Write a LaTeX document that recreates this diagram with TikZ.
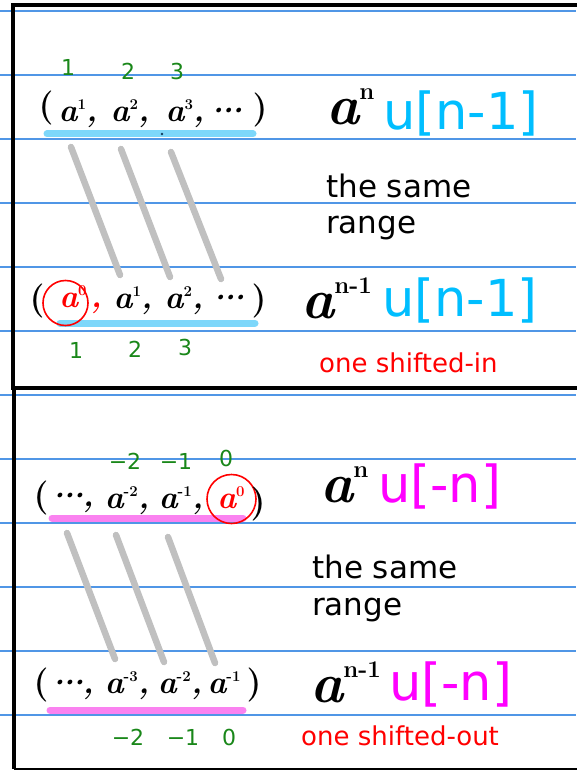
\documentclass[tikz,border=0pt]{standalone}
\usepackage{fontspec}
\newfontfamily\notefont{DejaVu Sans}
\usepackage{tikz}
\usetikzlibrary{positioning}
\definecolor{RuleBlue}{RGB}{80,150,230}
\definecolor{MarkBlue}{RGB}{125,215,250}
\definecolor{MarkPink}{RGB}{250,130,240}
\definecolor{SeqCyan}{RGB}{0,190,255}
\definecolor{SeqMagenta}{RGB}{255,0,255}
\definecolor{IdxGreen}{RGB}{25,135,25}
\definecolor{StrokeGray}{RGB}{192,192,192}
\definecolor{DotInk}{RGB}{20,60,90}
\newcommand\tsup[1]{\raisebox{12pt}{\fontsize{15}{15}\selectfont\upshape\bfseries #1}}
\newcommand\bsup[1]{\raisebox{25pt}{\fontsize{24}{24}\selectfont\upshape\bfseries #1}}
\newcommand\hdots{\makebox[10pt]{\textperiodcentered}\makebox[10pt]{\textperiodcentered}\makebox[10pt]{\textperiodcentered}}

\begin{document}
\begin{tikzpicture}[x=1pt,y=-1pt,
  rule/.style={draw=RuleBlue,line width=1.2pt},
  boxline/.style={draw=black,line width=3.5pt},
  hand/.style={font=\fontsize{32}{32}\selectfont\bfseries\itshape,inner sep=0pt,anchor=base},
  paren/.style={font=\fontsize{34}{34}\selectfont\bfseries,inner sep=0pt,anchor=base},
  bighand/.style={font=\fontsize{56}{56}\selectfont\bfseries\itshape,inner sep=0pt,anchor=base west},
  seq/.style={font=\notefont\fontsize{51}{51}\selectfont,inner sep=0pt,anchor=base west},
  note/.style={font=\notefont\fontsize{31}{31}\selectfont,inner sep=0pt,anchor=base west},
  remark/.style={font=\notefont\fontsize{26}{26}\selectfont,text=red,inner sep=0pt,anchor=base west},
  idx/.style={font=\notefont\fontsize{22}{22}\selectfont,text=IdxGreen,inner sep=0pt},
  hilite/.style={line width=7pt,line cap=round},
  diag/.style={draw=StrokeGray,line width=6.5pt,line cap=round},
  ring/.style={draw=red,circle,line width=1.6pt,inner sep=0pt}]
  \useasboundingbox (0,0) rectangle (576,770);
  % ruled paper
  \foreach \y in {11,75,...,715}
    \draw[rule] (0,\y) -- (576,\y);
  % the two panels
  \draw[boxline] (590,5) -- (13,5) -- (13,388) -- (590,388);
  \draw[boxline] (14,388) -- (14,769);
  \draw[black,line width=2pt] (14,769) -- (590,769);

  % --- top panel: u[n-1]
  \draw[hilite,MarkBlue] (47,134) -- (253,134);
  \draw[hilite,MarkBlue] (60,323) -- (255,323);
  \fill[DotInk] (162,134) circle (1.3pt);
  \coordinate (s1) at (71,147);  \coordinate (e1) at (120,275);
  \coordinate (s2) at (121,149); \coordinate (e2) at (170,277);
  \coordinate (s3) at (171,152); \coordinate (e3) at (221,279);
  \draw[diag] (s1) -- (e1);
  \draw[diag] (s2) -- (e2);
  \draw[diag] (s3) -- (e3);

  \node[idx] (n1) at (68,67) {1};
  \node[idx] (n2) at (128,71) {2};
  \node[idx] (n3) at (177,71) {3};
  \node[paren] (tl) at (46,117) {(};
  \node[hand] (t1) at (78,122) {a\tsup{1},};
  \node[hand] (t2) at (130,122) {a\tsup{2},};
  \node[hand] (t3) at (185,122) {a\tsup{3},};
  \node[hand] (td) at (226,122) {\hdots};
  \node[paren] (tr) at (260,119) {)};

  \node[paren] (bl) at (37,309) {(};
  \node[ring,minimum size=45pt] (c0) at (65.5,303) {};
  \node[hand,text=red] (b0) at (73,307) {a\tsup{0}};
  \node[hand,text=red] (bc) at (96,307) {,};
  \node[hand] (b1) at (133,308) {a\tsup{1},};
  \node[hand] (b2) at (184,308) {a\tsup{2},};
  \node[hand] (bd) at (228,308) {\hdots};
  \node[paren] (br) at (259,309) {)};
  \node[idx] (m1) at (76,350) {1};
  \node[idx] (m2) at (135,349) {2};
  \node[idx] (m3) at (185,347) {3};

  \node[bighand] (pa) at (326,125) {a\bsup{n}};
  \node[seq,text=SeqCyan] (pu) at (383,130) {u[n-1]};
  \node[note] (ps) at (326,197) {the same};
  \node[note] (pr) at (326,233) {range};
  \node[bighand] (qa) at (301,318) {a\bsup{n-1}};
  \node[seq,text=SeqCyan] (qu) at (382,316) {u[n-1]};
  \node[remark] (qs) at (319,372) {one shifted-in};

  % --- bottom panel: u[-n]
  \draw[hilite,MarkPink] (52,518) -- (243,518);
  \draw[hilite,MarkPink] (50,710) -- (243,710);
  \coordinate (s4) at (67,533);  \coordinate (e4) at (115,659);
  \coordinate (s5) at (116,535); \coordinate (e5) at (164,662);
  \coordinate (s6) at (168,537); \coordinate (e6) at (215,663);
  \draw[diag] (s4) -- (e4);
  \draw[diag] (s5) -- (e5);
  \draw[diag] (s6) -- (e6);

  \node[idx] (k2) at (125,461) {−2};
  \node[idx] (k1) at (176,461) {−1};
  \node[idx] (k0) at (226,458) {0};
  \node[paren] (ul) at (41,506) {(};
  \node[hand] (ud) at (73,506) {\hdots,};
  \node[hand] (u2) at (127,508) {a\tsup{-2},};
  \node[hand] (u1) at (181,508) {a\tsup{-1},};
  \node[ring,minimum size=49pt] (c1) at (231.5,499) {};
  \node[hand,text=red] (u0) at (231,508) {a\tsup{0}};
  \node[paren] (ur) at (258,512) {)};

  \node[paren] (vl) at (41,693) {(};
  \node[hand] (vd) at (73,693) {\hdots,};
  \node[hand] (v3) at (127,693) {a\tsup{-3},};
  \node[hand] (v2) at (180,693) {a\tsup{-2},};
  \node[hand] (v1) at (224,693) {a\tsup{-1}};
  \node[paren] (vr) at (254,693) {)};
  \node[idx] (w2) at (128,737) {−2};
  \node[idx] (w1) at (183,737) {−1};
  \node[idx] (w0) at (229,737) {0};

  \node[bighand] (ra) at (320,502) {a\bsup{n}};
  \node[seq,text=SeqMagenta] (ru) at (378,502) {u[-n]};
  \node[note] (rs) at (312,578) {the same};
  \node[note] (rr) at (312,615) {range};
  \node[bighand] (sa) at (310,702) {a\bsup{n-1}};
  \node[seq,text=SeqMagenta] (su) at (389,700) {u[-n]};
  \node[remark] (ss) at (301,745) {one shifted-out};
\end{tikzpicture}
\end{document}
